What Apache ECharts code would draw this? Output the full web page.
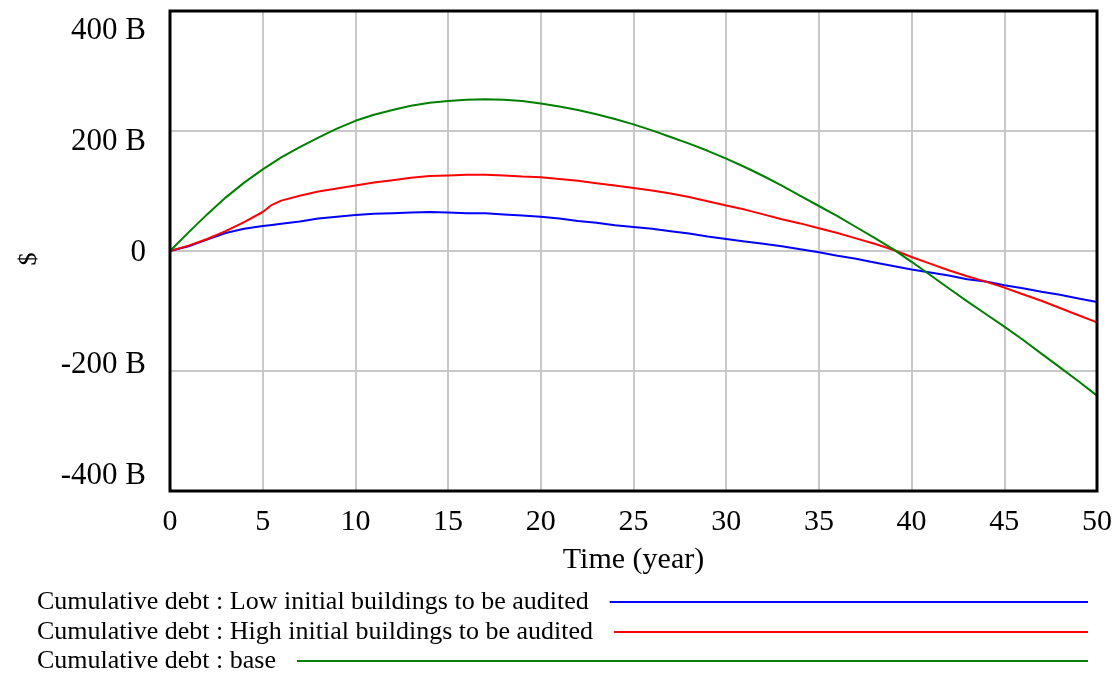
<!DOCTYPE html>
<html>
<head>
<meta charset="utf-8">
<script src="https://cdn.jsdelivr.net/npm/echarts@6/dist/echarts.min.js"></script>
<style>
html,body{margin:0;padding:0;background:#fff;}
#chart{width:1118px;height:674px;}
</style>
</head>
<body>
<div id="chart"></div>
<script>
// ---- data ----
const time = [0,1,2,3,4,5,5.5,6,7,8,9,10,11,12,13,14,15,16,17,18,19,20,21,22,23,24,25,26,27,28,29,30,31,32,33,34,35,36,37,38,39,40,41,42,43,44,45,46,47,48,49,50];
const lowAudited = [0,8,19,30,37,41.5,43.5,45.5,49,54,57,60,62,63,64,65,64,63,63,61,59,57,54,50,47,43,40,37,33,29,24,20,16,12,8,3,-2,-8,-13,-19,-25,-31,-36,-41,-47,-51,-57,-62,-68,-73,-79,-85];
const highAudited = [0,9,20,33,48,65,77,84,92,99,104,109,114,118,122,125,126,127,127,126,124,123,120,117,113,109,105,101,96,90,83,76,69,61,53,46,38,30,21,12,2,-10,-21,-32,-42,-51,-61,-72,-83,-95,-107,-119];
const base = [0,31,61,89,114,136,146,156,173,189,204,217,227,235,242,247,250,252,253,252,250,246,241,235,228,220,211,201,190,179,167,154,140,125,109,92,75,58,40,22,3,-18,-40,-62,-84,-105,-126,-148,-171,-194,-217,-241];
const seriesNames = [
  'Cumulative debt : Low initial buildings to be audited',
  'Cumulative debt : High initial buildings to be audited',
  'Cumulative debt : base'
];
const seriesColors = ['#0000ff', '#ff0000', '#008000'];
const yTickValues = [-400, -200, 0, 200, 400];
const yTickLabels = ['-400 B', '-200 B', '0', '200 B', '400 B'];
const xTickValues = [0,5,10,15,20,25,30,35,40,45,50];

// ---- build ----
const FONT = '"Liberation Serif", "Times New Roman", serif';
const seriesData = [lowAudited, highAudited, base];

function pairs(vals){ return time.map((t,i)=>[t, vals[i]]); }

const legendFontSize = 26;
const ctx = document.createElement('canvas').getContext('2d');
ctx.font = legendFontSize + 'px ' + FONT;
const legendLeft = 37, legendRight = 1088, legendGap = 21;
const legendTops = [589, 619, 648];

const legends = seriesNames.map((name, i) => {
  const w = ctx.measureText(name).width;
  return {
    data: [{name: name, icon: 'rect', itemStyle: {color: seriesColors[i]}}],
    left: legendLeft,
    top: legendTops[i],
    padding: 0,
    orient: 'horizontal',
    align: 'right',
    itemWidth: Math.max(10, legendRight - legendLeft - w - legendGap),
    itemHeight: 2,
    selectedMode: false,
    textStyle: {
      fontFamily: FONT, fontSize: legendFontSize, color: '#000',
      lineHeight: 26, padding: [0, legendGap - 5, 0, 0]
    }
  };
});

const chart = echarts.init(document.getElementById('chart'), null, {renderer: 'canvas'});
chart.setOption({
  animation: false,
  backgroundColor: '#fff',
  grid: {
    left: 170, right: 21, top: 11, bottom: 183, z: 10,
    show: true, borderColor: '#000', borderWidth: 3, backgroundColor: 'transparent'
  },
  legend: legends,
  xAxis: {
    type: 'value', min: 0, max: 50, interval: 5,
    name: 'Time (year)', nameLocation: 'middle', nameGap: 54,
    nameTextStyle: {fontFamily: FONT, fontSize: 30, color: '#000'},
    axisLine: {show: false}, axisTick: {show: false},
    axisLabel: {
      fontFamily: FONT, fontSize: 30, color: '#000', margin: 16,
      customValues: xTickValues
    },
    splitLine: {show: true, lineStyle: {color: '#c8c8c8', width: 2}}
  },
  yAxis: [
    {
      type: 'value', min: -400, max: 400, interval: 200,
      name: '$', nameLocation: 'middle', nameGap: 128, nameRotate: 90,
      nameTextStyle: {fontFamily: FONT, fontSize: 26, color: '#000', padding: [0, 16, 0, 0]},
      axisLine: {show: false}, axisTick: {show: false},
      axisLabel: {show: false},
      splitLine: {show: true, lineStyle: {color: '#c8c8c8', width: 2}}
    },
    {
      type: 'value', min: -426.9, max: 435, position: 'left',
      axisLine: {show: false}, axisTick: {show: false},
      splitLine: {show: false},
      axisLabel: {
        fontFamily: FONT, fontSize: 31, color: '#000', margin: 24,
        customValues: yTickValues,
        formatter: v => yTickLabels[yTickValues.indexOf(Math.round(v))]
      }
    }
  ],
  series: seriesNames.map((name, i) => ({
    name: name, type: 'line', yAxisIndex: 0,
    data: pairs(seriesData[i]),
    showSymbol: false, symbol: 'none',
    lineStyle: {color: seriesColors[i], width: 2},
    itemStyle: {color: seriesColors[i]},
    z: 3 + i
  }))
});
</script>
</body>
</html>
